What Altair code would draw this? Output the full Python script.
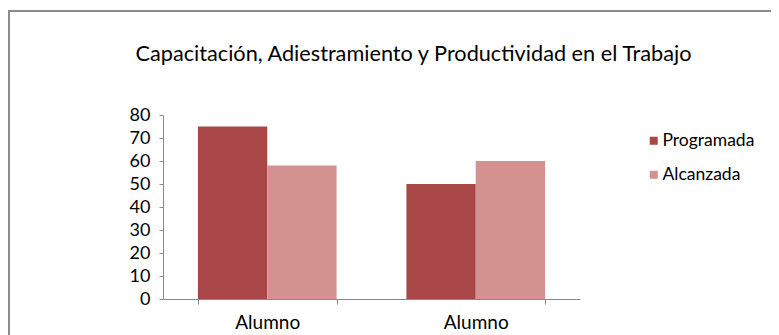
import altair as alt
import pandas as pd

categories = ["Alumno 1", "Alumno 2"]
category_labels = ["Alumno", "Alumno"]
series = ["Programada", "Alcanzada"]
programada = [75, 50]
alcanzada = [58, 60]
colors = ["#A84745", "#D3918F"]
y_ticks = [0, 10, 20, 30, 40, 50, 60, 70, 80]

rows = []
for i, c in enumerate(categories):
    rows.append({"cat": c, "serie": series[0], "valor": programada[i]})
    rows.append({"cat": c, "serie": series[1], "valor": alcanzada[i]})
df = pd.DataFrame(rows)

FONT = "Lato"
W, H = 417, 184

label_expr = "datum.value == '%s' ? '%s' : datum.value == '%s' ? '%s' : ''" % (
    categories[0], category_labels[0], categories[1], category_labels[1])

bars = alt.Chart(df).mark_bar(strokeWidth=0).encode(
    x=alt.X("cat:N", sort=categories, title=None,
            scale=alt.Scale(paddingInner=0.335, paddingOuter=0.1675),
            axis=alt.Axis(labelAngle=0, labelExpr=label_expr, tickBand="extent",
                          labelFontSize=19, labelColor="#000000", labelPadding=9,
                          domainColor="#8a8a8a", tickColor="#8a8a8a", tickSize=5,
                          labelFont=FONT, grid=False)),
    xOffset=alt.XOffset("serie:N", sort=series, scale=alt.Scale(paddingInner=0, paddingOuter=0)),
    y=alt.Y("valor:Q", title=None,
            scale=alt.Scale(domain=[0, 80], nice=False),
            axis=alt.Axis(values=y_ticks, grid=False, labelFontSize=18, labelColor="#000000",
                          labelFont=FONT, domainColor="#8a8a8a", tickColor="#8a8a8a",
                          tickSize=4, labelPadding=9)),
    color=alt.Color("serie:N", sort=series, title=None,
                    scale=alt.Scale(domain=series, range=colors),
                    legend=alt.Legend(orient="none", legendX=482, legendY=17,
                                      symbolType="square", symbolSize=64,
                                      symbolStrokeWidth=0, labelFontSize=17.5,
                                      labelFont=FONT, labelColor="#000000",
                                      labelOffset=0, rowPadding=15, padding=0)),
)

frame_top = alt.Chart(df).mark_rule(color="#8c8c8c", strokeWidth=2).encode(
    x=alt.value(-155), x2=alt.value(608), y=alt.value(-104))
frame_left = alt.Chart(df).mark_rule(color="#8c8c8c", strokeWidth=2).encode(
    x=alt.value(-154), y=alt.value(-105), y2=alt.value(230))

chart = alt.layer(frame_top, frame_left, bars).properties(
    width=W, height=H,
    title=alt.TitleParams("Capacitación, Adiestramiento y Productividad en el Trabajo",
                          font=FONT, fontSize=21.7, fontWeight="normal", color="#000000",
                          anchor="middle", dx=42, offset=0, dy=57),
    autosize=alt.AutoSizeParams(type="none"),
    padding={"left": 155, "top": 107, "right": 191, "bottom": 36},
    background="white",
).configure_view(stroke=None)

chart.save("out.html", embed_options={"renderer": "svg", "actions": False})
